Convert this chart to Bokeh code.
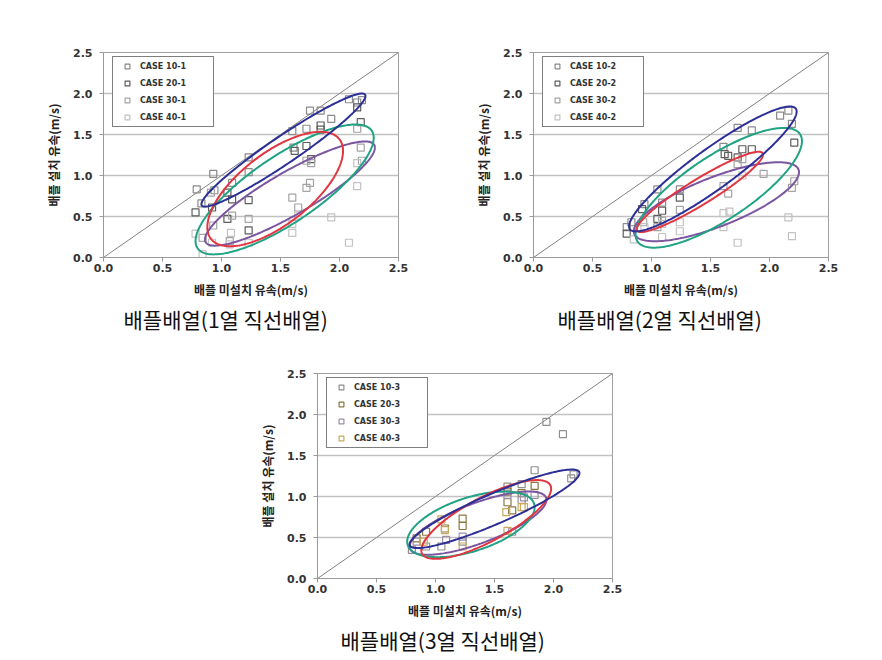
import numpy as np
from bokeh.plotting import figure
from bokeh.models import Range1d, Legend, LegendItem, Title, FixedTicker
from bokeh.layouts import column, row
from bokeh.embed import file_html
from bokeh.resources import INLINE

# ---------------- data ----------------
tick_vals = [0.0, 0.5, 1.0, 1.5, 2.0, 2.5]
tick_labels = ["0.0", "0.5", "1.0", "1.5", "2.0", "2.5"]
x_label = "배플 미설치 유속(m/s)"
y_label = "배플 설치 유속(m/s)"

# Panel 1 (1열 직선배열)
p1_labels = ["CASE 10-1", "CASE 20-1", "CASE 30-1", "CASE 40-1"]
p1_x10 = [0.79, 0.83, 0.93, 0.94, 1.09, 1.23, 1.23, 1.60, 1.61, 1.72, 1.75, 1.84, 1.93, 2.08, 2.15, 2.19]
p1_y10 = [0.83, 0.66, 1.02, 0.82, 0.91, 1.22, 1.04, 1.54, 1.34, 1.57, 1.79, 1.79, 1.69, 1.93, 1.89, 1.92]
p1_x20 = [0.78, 0.92, 1.05, 1.05, 1.09, 1.23, 1.23, 1.62, 1.72, 1.76, 1.84, 1.84, 2.15, 2.18]
p1_y20 = [0.55, 0.61, 0.79, 0.47, 0.71, 0.70, 0.33, 1.30, 1.36, 1.20, 1.61, 1.56, 1.83, 1.65]
p1_x30 = [0.91, 0.93, 0.84, 1.07, 1.09, 1.23, 1.60, 1.65, 1.72, 1.76, 1.72, 1.75, 2.15, 2.18, 2.19]
p1_y30 = [0.79, 0.39, 0.24, 0.20, 0.51, 0.47, 0.73, 0.61, 1.18, 1.15, 0.85, 0.91, 1.57, 1.34, 1.18]
p1_x40 = [0.78, 0.92, 0.84, 1.08, 1.07, 1.23, 1.60, 1.60, 1.65, 1.93, 2.08, 2.15, 2.15]
p1_y40 = [0.29, 0.18, 0.04, 0.30, 0.16, 0.18, 0.41, 0.30, 0.51, 0.49, 0.18, 1.15, 0.87]

# Panel 2 (2열 직선배열)
p2_labels = ["CASE 10-2", "CASE 20-2", "CASE 30-2", "CASE 40-2"]
p2_x10 = [0.79, 0.83, 0.94, 1.05, 1.09, 1.24, 1.61, 1.73, 1.85, 2.09, 2.16, 2.19]
p2_y10 = [0.37, 0.43, 0.65, 0.83, 0.67, 0.83, 1.35, 1.58, 1.55, 1.73, 1.79, 1.63]
p2_x20 = [0.79, 0.92, 1.05, 1.09, 1.24, 1.62, 1.65, 1.73, 1.77, 1.85, 2.21]
p2_y20 = [0.29, 0.59, 0.47, 0.57, 0.73, 1.26, 1.24, 1.22, 1.32, 1.32, 1.40]
p2_x30 = [0.93, 1.05, 1.09, 1.24, 1.61, 1.65, 1.73, 1.77, 1.95, 2.19, 2.21]
p2_y30 = [0.43, 0.37, 0.45, 0.58, 0.87, 0.78, 1.14, 1.20, 1.02, 0.85, 0.93]
p2_x40 = [0.85, 0.94, 1.09, 1.09, 1.24, 1.24, 1.61, 1.61, 1.66, 1.73, 1.77, 2.16, 2.19]
p2_y40 = [0.22, 0.37, 0.41, 0.25, 0.43, 0.32, 0.54, 0.37, 0.56, 0.18, 1.00, 0.49, 0.26]

# Panel 3 (3열 직선배열)
p3_labels = ["CASE 10-3", "CASE 20-3", "CASE 30-3", "CASE 40-3"]
p3_x10 = [0.80, 0.92, 1.05, 1.23, 1.61, 1.73, 1.84, 1.94, 2.08, 2.17, 2.15]
p3_y10 = [0.35, 0.39, 0.39, 0.45, 1.12, 1.15, 1.32, 1.91, 1.76, 1.27, 1.22]
p3_x20 = [0.84, 0.92, 1.08, 1.23, 1.23, 1.61, 1.61, 1.73, 1.84, 1.65]
p3_y20 = [0.49, 0.57, 0.61, 0.73, 0.64, 1.06, 0.93, 1.04, 1.13, 0.83]
p3_x30 = [0.84, 1.09, 1.23, 1.61, 1.73, 1.75, 1.84, 1.65]
p3_y30 = [0.45, 0.47, 0.51, 1.02, 0.96, 0.99, 1.02, 0.57]
p3_x40 = [0.90, 1.05, 1.08, 1.23, 1.60, 1.61, 1.73, 1.75]
p3_y40 = [0.45, 0.72, 0.59, 0.39, 0.81, 0.58, 0.87, 0.87]

# Ellipse parameters: centre x, centre y, half width, y-offset of rightmost point, half chord at centre
# order: purple, green, red, blue
p1_ell = [(1.58, 0.78, 0.72, 0.56, 0.30), (1.535, 0.83, 0.755, 0.63, 0.48),
          (1.455, 0.835, 0.575, 0.465, 0.52), (1.525, 1.31, 0.695, 0.66, 0.20)]
p2_ell = [(1.55, 0.68, 0.70, 0.36, 0.32), (1.57, 0.85, 0.705, 0.57, 0.456),
          (1.41, 0.80, 0.535, 0.455, 0.18), (1.52, 1.08, 0.71, 0.70, 0.30)]
p3_ell = [(1.36, 0.675, 0.58, 0.285, 0.26), (1.30, 0.66, 0.54, 0.21, 0.34),
          (1.43, 0.72, 0.55, 0.375, 0.30), (1.50, 0.85, 0.72, 0.435, 0.20)]

captions = ["배플배열(1열  직선배열)", "배플배열(2열  직선배열)", "배플배열(3열  직선배열)"]

# ---------------- styles ----------------
ELL_COLORS = ["#7b559f", "#1fa383", "#e2353f", "#2c2f96"]
GRAY_MARK = ["#8a8a8a", "#5c5c5c", "#a4a4a4", "#c2c2c2"]
P3_MARK = ["#8f8f8f", "#8c7640", "#9d8ea6", "#c9a95e"]
TICK_FONT = "DejaVu Sans"
KR_FONT = "Noto Sans CJK KR"


def make_panel(xs, ys, labels, mcolors, ells, caption, bl, br, bt, bb, cap_off):
    p = figure(frame_width=295, frame_height=205,
               x_range=Range1d(0, 2.5), y_range=Range1d(0, 2.5),
               output_backend="svg", toolbar_location=None,
               min_border_left=bl, min_border_right=br,
               min_border_top=bt, min_border_bottom=bb,
               background_fill_color="white", border_fill_color="white")
    p.outline_line_color = "#a0a0a0"
    p.outline_line_width = 1
    p.xgrid.visible = False
    p.ygrid.ticker = FixedTicker(ticks=tick_vals)
    p.ygrid.grid_line_color = "#c2c2c2"
    p.ygrid.grid_line_width = 1.5
    overrides = {v: l for v, l in zip(tick_vals, tick_labels)}
    for ax in (p.xaxis[0], p.yaxis[0]):
        ax.ticker = FixedTicker(ticks=tick_vals)
        ax.major_label_overrides = overrides
        ax.axis_line_color = "#9a9a9a"
        ax.major_tick_line_color = "#9a9a9a"
        ax.major_tick_out = 4
        ax.major_tick_in = 0
        ax.minor_tick_line_color = None
        ax.major_label_text_font = TICK_FONT
        ax.major_label_text_font_style = "bold"
        ax.major_label_text_font_size = "11px"
        ax.major_label_text_color = "#333333"
        ax.axis_label_text_font = KR_FONT
        ax.axis_label_text_font_style = "bold"
        ax.axis_label_text_font_size = "12px"
        ax.axis_label_text_color = "#222222"
    p.xaxis.axis_label = x_label
    p.yaxis.axis_label = y_label
    p.xaxis.major_label_standoff = 2
    p.xaxis.axis_label_standoff = 6
    p.yaxis.major_label_standoff = 7
    p.yaxis.axis_label_standoff = 8

    # 1:1 line
    p.line(tick_vals, tick_vals, line_color="#808080", line_width=1)

    items = []
    for x, y, lab, col in zip(xs, ys, labels, mcolors):
        r = p.scatter(x, y, marker="square", size=7, fill_color="white", fill_alpha=0.0,
                      line_color=col, line_width=1.2)
        items.append(LegendItem(label=lab, renderers=[r]))

    t = np.linspace(0, 2 * np.pi, 240)
    for (cx, cy, hx, s, c), col in zip(ells, ELL_COLORS):
        ex = cx + hx * np.cos(t)
        ey = cy + s * np.cos(t) + c * np.sin(t)
        p.line(ex, ey, line_color=col, line_width=2)

    leg = Legend(items=items, location=(9, 130))
    leg.border_line_color = "black"
    leg.border_line_width = 1
    leg.background_fill_color = "white"
    leg.background_fill_alpha = 1
    leg.padding = 3
    leg.spacing = 5
    leg.margin = 0
    leg.label_height = 12
    leg.glyph_height = 12
    leg.glyph_width = 22
    leg.label_standoff = 2
    leg.label_width = 70
    leg.label_text_font = TICK_FONT
    leg.label_text_font_style = "bold"
    leg.label_text_font_size = "8px"
    leg.label_text_color = "#333333"
    leg.label_text_baseline = "middle"
    p.add_layout(leg)

    cap = Title(text=caption, align="left", offset=cap_off, text_font=KR_FONT,
                text_font_size="21px", text_font_style="normal", text_color="#111111",
                standoff=3)
    p.add_layout(cap, "below")
    return p


f1 = make_panel([p1_x10, p1_x20, p1_x30, p1_x40], [p1_y10, p1_y20, p1_y30, p1_y40],
                p1_labels, GRAY_MARK, p1_ell, captions[0], 103, 40, 52, 90, 20)
f2 = make_panel([p2_x10, p2_x20, p2_x30, p2_x40], [p2_y10, p2_y20, p2_y30, p2_y40],
                p2_labels, GRAY_MARK, p2_ell, captions[1], 95, 30, 52, 90, 24)
f3 = make_panel([p3_x10, p3_x20, p3_x30, p3_x40], [p3_y10, p3_y20, p3_y30, p3_y40],
                p3_labels, P3_MARK, p3_ell, captions[2], 317, 40, 26, 80, 23)

layout = column(row(f1, f2), f3)
open("out.html", "w").write(file_html(layout, INLINE))
